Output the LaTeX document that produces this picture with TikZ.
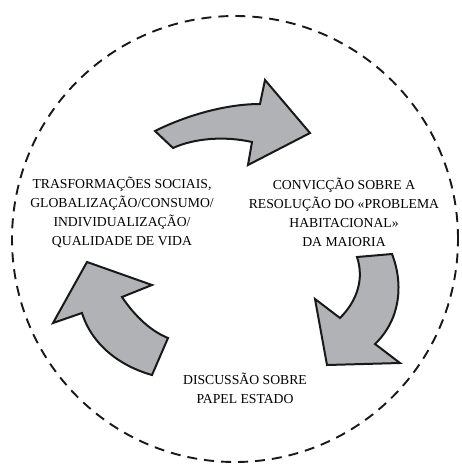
\documentclass[tikz,border=0pt]{standalone}
\usepackage{fontspec}
\setmainfont{Liberation Serif}
\usepackage{xcolor}
\usepackage{tikz}
\usetikzlibrary{positioning}
\definecolor{arrowgray}{RGB}{177,178,182}
\definecolor{inkblack}{RGB}{25,25,25}
\tikzset{
    blocktext/.style={text=black, align=center, inner sep=0pt,
                  font=\fontsize{13.7}{19}\selectfont},
    cyclearrow/.style={draw=inkblack, fill=arrowgray, line width=2pt, line join=miter},
    ring/.style={draw=inkblack, line width=1.9pt, dash pattern=on 10pt off 7pt}
}

\begin{document}
\begin{tikzpicture}[x=1pt, y=-1pt]
    \useasboundingbox (0,0) rectangle (461,466);

    % dashed circle
    \draw[ring] (235,239) circle[radius=223pt];

    % Texts
    \node[blocktext] (social) at (122,212)
        {TRASFORMAÇÕES SOCIAIS,\\ GLOBALIZAÇÃO/CONSUMO/\\ INDIVIDUALIZAÇÃO/\\ QUALIDADE DE VIDA};
    \node[blocktext] (habit) at (344,212)
        {CONVICÇÃO SOBRE A\\ RESOLUÇÃO DO «PROBLEMA\\ HABITACIONAL»\\ DA MAIORIA};
    \node[blocktext] (estado) at (245,388)
        {DISCUSSÃO SOBRE\\ PAPEL ESTADO};

    % top arrow
    \draw[cyclearrow] (155,131) .. controls (185,116) and (225,104) .. (260,104)
        -- (265,80) -- (310,133) -- (248,165) -- (252,142)
        .. controls (225,136) and (195,138) .. (173,148) -- cycle;

    % right arrow
    \draw[cyclearrow] (357,257) -- (392,254)
        .. controls (404,285) and (400,320) .. (375,344)
        -- (400,363) -- (327,365) -- (315,299) -- (340,318)
        .. controls (358,300) and (364,278) .. (357,257) -- cycle;

    % left arrow
    \draw[cyclearrow] (152,375) .. controls (120,366) and (92,345) .. (82,313)
        -- (53,323) -- (87,262) -- (152,285) -- (122,297)
        .. controls (132,312) and (148,330) .. (168,338) -- cycle;
\end{tikzpicture}
\end{document}
